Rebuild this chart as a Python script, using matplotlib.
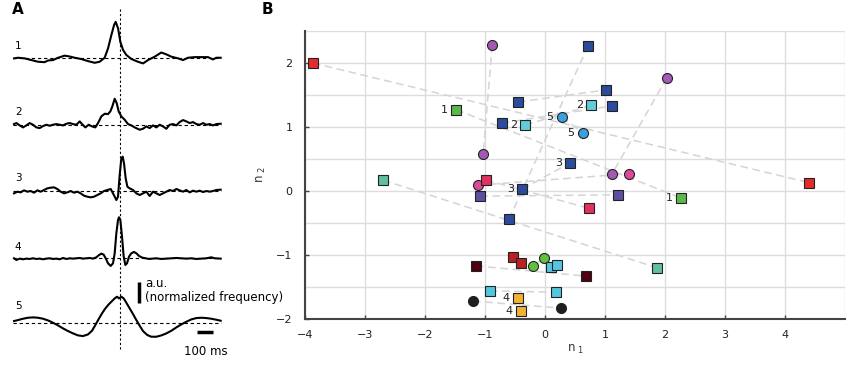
import numpy as np
import matplotlib
matplotlib.use("Agg")
import matplotlib.pyplot as plt

# ---- panel A: cross-correlograms (time in ms, amplitude in a.u.) ----
t1 = [-659, -634, -593, -551, -509, -468, -447, -416, -384, -343, -312, -280, -239, -197,
      -155, -124, -93, -72, -51, -34, -24, -9, 5, 22, 43, 74, 115, 147, 178, 220, 261, 293,
      324, 366, 397, 428, 470, 511, 553, 584, 605, 632]
v1 = [-0.03, 0.0, -0.03, -0.11, -0.19, -0.21, -0.13, -0.11, 0.0, 0.10, 0.06, 0.0, -0.06,
      -0.16, -0.24, -0.19, 0.0, 0.44, 1.08, 1.56, 1.71, 1.40, 0.76, 0.37, 0.13, -0.06, -0.19,
      -0.27, -0.11, 0.05, 0.25, 0.16, 0.05, -0.03, -0.11, 0.0, 0.03, 0.03, 0.03, -0.08, 0.0, 0.0]

x2 = [18, 25, 35, 45, 55, 65, 75, 85, 95, 105, 115, 125, 135, 145, 155, 165, 175, 185, 195,
      205, 215, 222, 232, 242, 252, 262, 270, 280, 290, 300, 307, 313, 320, 326, 332, 340,
      350, 360, 370, 380, 395, 405, 415, 425, 435, 445, 455, 465, 475, 485, 495, 505, 515,
      525, 535, 545, 555, 565, 575, 585, 595, 605, 615, 625, 638]
z2 = [118, 115, 122, 128, 122, 115, 120, 128, 130, 124, 120, 123, 120, 118, 120, 122, 117,
      115, 118, 120, 110, 118, 128, 120, 125, 128, 115, 95, 87, 88, 80, 65, 42, 55, 80, 95,
      105, 118, 122, 128, 135, 132, 125, 130, 122, 128, 120, 125, 132, 120, 118, 122, 112,
      106, 110, 115, 112, 118, 120, 115, 120, 118, 122, 118, 117]

x3 = [18, 28, 38, 48, 58, 68, 78, 88, 98, 108, 118, 128, 138, 148, 158, 168, 178, 188, 198,
      208, 218, 228, 238, 248, 258, 268, 278, 288, 298, 308, 315, 320, 325, 330, 335, 340,
      344, 348, 353, 358, 365, 375, 385, 395, 405, 415, 425, 435, 445, 455, 465, 475, 485,
      495, 505, 515, 525, 535, 545, 555, 565, 575, 585, 595, 605, 615, 625, 638]
z3 = [145, 140, 142, 136, 140, 138, 143, 136, 140, 135, 130, 128, 127, 132, 140, 145, 142,
      138, 143, 140, 145, 152, 155, 157, 155, 150, 145, 138, 135, 132, 145, 155, 165, 155, 90,
      40, 35, 55, 100, 125, 130, 135, 145, 150, 145, 140, 153, 140, 145, 150, 145, 140, 135,
      138, 132, 136, 140, 135, 142, 137, 140, 137, 141, 138, 140, 138, 135, 134]

x4 = [18, 25, 35, 45, 55, 65, 75, 85, 95, 105, 115, 125, 135, 145, 155, 165, 175, 185, 195,
      205, 215, 225, 235, 245, 255, 265, 272, 280, 287, 293, 300, 308, 315, 320, 325, 330,
      333, 337, 342, 347, 352, 357, 363, 370, 378, 385, 393, 403, 413, 423, 433, 445, 460,
      475, 490, 505, 520, 535, 550, 565, 580, 595, 610, 620, 638]
z4 = [145, 150, 146, 148, 146, 147, 145, 147, 146, 148, 146, 145, 147, 146, 148, 144, 147,
      145, 146, 145, 144, 146, 145, 144, 146, 142, 136, 131, 134, 145, 160, 168, 160, 130, 70,
      30, 22, 30, 80, 140, 165, 160, 140, 130, 126, 130, 138, 143, 145, 147, 146, 145, 147,
      146, 145, 144, 145, 146, 145, 147, 146, 145, 142, 145, 146]

x5 = [18, 30, 45, 60, 75, 90, 105, 120, 135, 150, 165, 180, 195, 210, 225, 240, 252, 262,
      272, 282, 292, 302, 312, 320, 327, 333, 340, 347, 355, 365, 375, 385, 395, 405, 418,
      430, 445, 460, 475, 490, 505, 520, 535, 550, 565, 580, 595, 610, 625, 638]
z5 = [153, 150, 146, 143, 142, 143, 146, 151, 158, 166, 175, 183, 190, 196, 198, 193, 182,
      165, 147, 130, 115, 103, 93, 85, 80, 85, 80, 85, 98, 115, 132, 150, 167, 183, 195, 200,
      200, 196, 190, 182, 172, 163, 155, 148, 144, 143, 144, 146, 149, 152]


def to_ms(xs):
    return [x * 2.0833 - 696.9 for x in xs]


def to_au(zs, base):
    return [(base - z) / 63.0 for z in zs]


traces = [
    (t1, v1),
    (to_ms(x2), to_au(z2, 120)),
    (to_ms(x3), to_au(z3, 137)),
    (to_ms(x4), to_au(z4, 145)),
    (to_ms(x5), to_au(z5, 160)),
]
trace_labels = ["1", "2", "3", "4", "5"]

# ---- panel B: pairs of points (start, end) ----
p_x0 = [-3.87, -0.88, 2.03, -1.12, -0.98, -1.48, -0.33, 0.28, -0.38, 0.72, -0.45, -0.72,
        -2.70, -1.08, -0.53, -1.15, -0.02, 0.10, -0.92, -1.20, -0.45]
p_y0 = [2.00, 2.28, 1.77, 0.09, 0.17, 1.27, 1.03, 1.16, 0.03, 2.27, 1.39, 1.06,
        0.17, -0.08, -1.03, -1.17, -1.05, -1.19, -1.56, -1.72, -1.67]
p_x1 = [4.40, -1.03, 1.12, 1.40, 0.73, 2.27, 0.77, 0.63, 0.42, -0.60, 1.02, 1.12,
        1.87, 1.22, -0.40, 0.68, -0.20, 0.20, 0.18, 0.27, -0.40]
p_y1 = [0.13, 0.58, 0.27, 0.27, -0.27, -0.11, 1.34, 0.91, 0.44, -0.44, 1.58, 1.33,
        -1.20, -0.06, -1.12, -1.33, -1.17, -1.16, -1.58, -1.83, -1.88]
p_color = ["#e32b2b", "#a45ab4", "#a45ab4", "#e0489c", "#e23060", "#5cb84a", "#62cdd8",
           "#3aa0e0", "#2b4c9b", "#2b4c9b", "#2b4c9b", "#2b4c9b", "#60bfa3", "#5b4f9f",
           "#b82025", "#4e0012", "#62c040", "#55c6e0", "#55c6e0", "#1e1e1e", "#f2b233"]
p_marker = ["s", "o", "o", "o", "s", "s", "s", "o", "s", "s", "s", "s", "s", "s",
            "s", "s", "o", "s", "s", "o", "s"]
p_label = ["", "", "", "", "", "1", "2", "5", "3", "", "", "", "", "", "", "", "", "", "",
           "", "4"]

fig = plt.figure(figsize=(8.5, 3.66), dpi=100)

# panel A
axA = fig.add_axes([0, 0, 240 / 850, 1])
axA.set_xlim(-747, 753)
axA.set_ylim(-366 / 21, 0)
axA.axis("off")
offsets = [2.75, 5.94, 9.08, 12.30, 15.40]
lab_y = [0.55, 0.62, 0.62, 0.55, 0.82]
for (t, v), off, lab, ly in zip(traces, offsets, trace_labels, lab_y):
    axA.plot([-665, 635], [-off, -off], color="black", lw=0.8, ls=(0, (3, 2.5)))
    axA.plot(t, np.array(v) - off, color="black", lw=1.5)
    axA.text(-634, -off + ly, lab, fontsize=7.5, ha="center", va="center")
axA.plot([0, 0], [-0.45, -16.7], color="black", lw=0.8, ls=(0, (2, 2)))
# scale bars
axA.plot([122, 122], [-13.43, -14.43], color="black", lw=2.5, solid_capstyle="butt")
axA.text(159, -13.5, "a.u.", fontsize=8.5, ha="left", va="center")
axA.text(159, -14.15, "(normalized frequency)", fontsize=8.5, ha="left", va="center")
axA.plot([484, 584], [-15.81, -15.81], color="black", lw=2.5, solid_capstyle="butt")
axA.text(540, -16.75, "100 ms", fontsize=8.5, ha="center", va="center")
fig.text(12 / 850, 1 - 10 / 366, "A", fontsize=11, fontweight="bold", va="center", ha="left")
fig.text(262 / 850, 1 - 10 / 366, "B", fontsize=11, fontweight="bold", va="center", ha="left")

# panel B
axB = fig.add_axes([305 / 850, 1 - 319 / 366, 540 / 850, 288 / 366])
axB.set_xlim(-4, 5)
axB.set_ylim(-2, 2.5)
axB.set_xticks(range(-4, 5))
axB.set_yticks([-2, -1, 0, 1, 2])
axB.set_yticks(np.arange(-2, 2.51, 0.5), minor=True)
axB.set_xticks(range(-4, 6), minor=True)
axB.grid(which="both", color="#dddddd", lw=1.0)
axB.set_axisbelow(True)
axB.tick_params(which="minor", length=0)
axB.tick_params(which="major", direction="in", length=3, width=1, colors="#444444",
                labelsize=8, labelcolor="#222222")
axB.tick_params(axis="y", pad=9)
axB.tick_params(axis="x", pad=8)
for s in ["top", "right"]:
    axB.spines[s].set_visible(False)
for s in ["left", "bottom"]:
    axB.spines[s].set_color("#444444")
    axB.spines[s].set_linewidth(1.5)

for i in range(len(p_x0)):
    axB.plot([p_x0[i], p_x1[i]], [p_y0[i], p_y1[i]], color="#d4d4d4", lw=1.1,
             ls=(0, (5, 3)), zorder=2)
for i in range(len(p_x0)):
    ms = 7.2 if p_marker[i] == "o" else 6.6
    for xx, yy in [(p_x0[i], p_y0[i]), (p_x1[i], p_y1[i])]:
        axB.plot(xx, yy, marker=p_marker[i], ms=ms, mfc=p_color[i], mec="#222222",
                 mew=0.8, ls="none", zorder=3, clip_on=False)
        if p_label[i]:
            axB.annotate(p_label[i], (xx, yy), xytext=(-6, 0), textcoords="offset points",
                         ha="right", va="center", fontsize=8, color="#222222")

axB.set_xlabel(r"$\mathregular{n_{\ 1}}$", fontsize=8.5, labelpad=2, color="#333333")
axB.set_ylabel(r"$\mathregular{n_{\ 2}}$", fontsize=8.5, labelpad=6, color="#333333")

fig.savefig("out.png", dpi=100)
